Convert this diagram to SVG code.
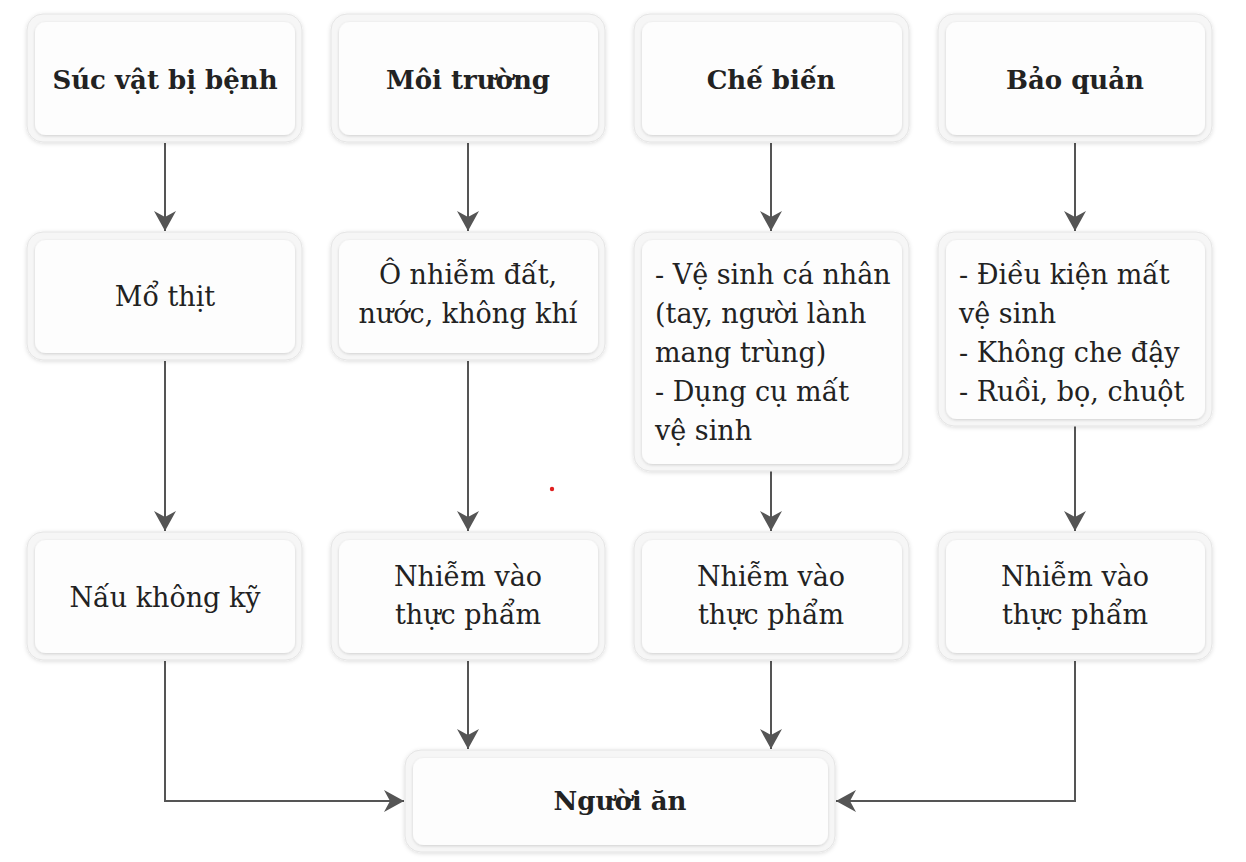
<svg xmlns="http://www.w3.org/2000/svg" width="1246" height="862" viewBox="0 0 1246 862">
<style>
.outer{fill:#f6f6f6;stroke:#e4e4e4;stroke-width:1;filter:url(#sh)}
.inner{fill:#fdfdfd;filter:url(#sh2)}
.t{font-family:"DejaVu Serif","Liberation Serif",serif;font-size:27px;fill:#222}
.b{font-weight:bold;font-size:26px}
.c{text-anchor:middle}
.ln{fill:none;stroke:#555;stroke-width:2}
</style>
<defs>
<filter id="sh" x="-10%" y="-10%" width="120%" height="120%">
<feDropShadow dx="0" dy="1" stdDeviation="2" flood-color="#000" flood-opacity="0.14"/>
</filter>
<filter id="sh2" x="-10%" y="-10%" width="120%" height="120%">
<feDropShadow dx="0" dy="1" stdDeviation="1.6" flood-color="#000" flood-opacity="0.16"/>
</filter>
<marker id="ah" markerUnits="userSpaceOnUse" markerWidth="22" markerHeight="22" viewBox="0 0 20 22" refX="20" refY="11" orient="auto">
<path d="M0,0 L20,11 L0,22 L6,11 Z" fill="#555"/>
</marker>
</defs>
<rect width="1246" height="862" fill="#fff"/>

<g id="connectors">
<line class="ln" x1="165" y1="143" x2="165" y2="231" marker-end="url(#ah)"/>
<line class="ln" x1="468" y1="143" x2="468" y2="231" marker-end="url(#ah)"/>
<line class="ln" x1="771" y1="143" x2="771" y2="231" marker-end="url(#ah)"/>
<line class="ln" x1="1075" y1="143" x2="1075" y2="231" marker-end="url(#ah)"/>
<line class="ln" x1="165" y1="361" x2="165" y2="531" marker-end="url(#ah)"/>
<line class="ln" x1="468" y1="361" x2="468" y2="531" marker-end="url(#ah)"/>
<line class="ln" x1="771" y1="471" x2="771" y2="531" marker-end="url(#ah)"/>
<line class="ln" x1="1075" y1="426" x2="1075" y2="531" marker-end="url(#ah)"/>
<line class="ln" x1="468" y1="661" x2="468" y2="749" marker-end="url(#ah)"/>
<line class="ln" x1="771" y1="661" x2="771" y2="749" marker-end="url(#ah)"/>
<polyline class="ln" points="165,661 165,801 404,801" marker-end="url(#ah)"/>
<polyline class="ln" points="1075,661 1075,801 836,801" marker-end="url(#ah)"/>
</g>

<g id="n1">
<rect class="outer" x="27" y="14" width="275" height="128" rx="16"/>
<rect class="inner" x="35" y="22" width="260" height="113" rx="11"/>
<text class="t b c" x="165" y="89">Súc vật bị bệnh</text>
</g>
<g id="n2">
<rect class="outer" x="331" y="14" width="274" height="128" rx="16"/>
<rect class="inner" x="339" y="22" width="259" height="113" rx="11"/>
<text class="t b c" x="468" y="89">Môi trường</text>
</g>
<g id="n3">
<rect class="outer" x="634" y="14" width="275" height="128" rx="16"/>
<rect class="inner" x="642" y="22" width="260" height="113" rx="11"/>
<text class="t b c" x="771" y="89">Chế biến</text>
</g>
<g id="n4">
<rect class="outer" x="938" y="14" width="274" height="128" rx="16"/>
<rect class="inner" x="946" y="22" width="259" height="113" rx="11"/>
<text class="t b c" x="1075" y="89">Bảo quản</text>
</g>

<g id="n5">
<rect class="outer" x="27" y="232" width="275" height="128" rx="16"/>
<rect class="inner" x="35" y="240" width="260" height="113" rx="11"/>
<text class="t c" x="165" y="306">Mổ thịt</text>
</g>
<g id="n6">
<rect class="outer" x="331" y="232" width="274" height="128" rx="16"/>
<rect class="inner" x="339" y="240" width="259" height="113" rx="11"/>
<text class="t c" x="468" y="284">Ô nhiễm đất,</text>
<text class="t c" x="468" y="323">nước, không khí</text>
</g>
<g id="n7">
<rect class="outer" x="634" y="232" width="275" height="239" rx="16"/>
<rect class="inner" x="642" y="240" width="260" height="224" rx="11"/>
<text class="t" x="655" y="284">- Vệ sinh cá nhân</text>
<text class="t" x="655" y="323">(tay, người lành</text>
<text class="t" x="655" y="362">mang trùng)</text>
<text class="t" x="655" y="401">- Dụng cụ mất</text>
<text class="t" x="655" y="440">vệ sinh</text>
</g>
<g id="n8">
<rect class="outer" x="938" y="232" width="274" height="194" rx="16"/>
<rect class="inner" x="946" y="240" width="259" height="179" rx="11"/>
<text class="t" x="959" y="284">- Điều kiện mất</text>
<text class="t" x="959" y="323">vệ sinh</text>
<text class="t" x="959" y="362">- Không che đậy</text>
<text class="t" x="959" y="401">- Ruồi, bọ, chuột</text>
</g>

<g id="n9">
<rect class="outer" x="27" y="532" width="275" height="128" rx="16"/>
<rect class="inner" x="35" y="540" width="260" height="113" rx="11"/>
<text class="t c" x="165" y="607">Nấu không kỹ</text>
</g>
<g id="n10">
<rect class="outer" x="331" y="532" width="274" height="128" rx="16"/>
<rect class="inner" x="339" y="540" width="259" height="113" rx="11"/>
<text class="t c" x="468" y="586">Nhiễm vào</text>
<text class="t c" x="468" y="624">thực phẩm</text>
</g>
<g id="n11">
<rect class="outer" x="634" y="532" width="275" height="128" rx="16"/>
<rect class="inner" x="642" y="540" width="260" height="113" rx="11"/>
<text class="t c" x="771" y="586">Nhiễm vào</text>
<text class="t c" x="771" y="624">thực phẩm</text>
</g>
<g id="n12">
<rect class="outer" x="938" y="532" width="274" height="128" rx="16"/>
<rect class="inner" x="946" y="540" width="259" height="113" rx="11"/>
<text class="t c" x="1075" y="586">Nhiễm vào</text>
<text class="t c" x="1075" y="624">thực phẩm</text>
</g>

<g id="n13">
<rect class="outer" x="405" y="750" width="430" height="102" rx="16"/>
<rect class="inner" x="413" y="758" width="415" height="87" rx="11"/>
<text class="t b c" x="620" y="810">Người ăn</text>
</g>

<circle cx="552" cy="489" r="2.2" fill="#e02020"/>
</svg>
